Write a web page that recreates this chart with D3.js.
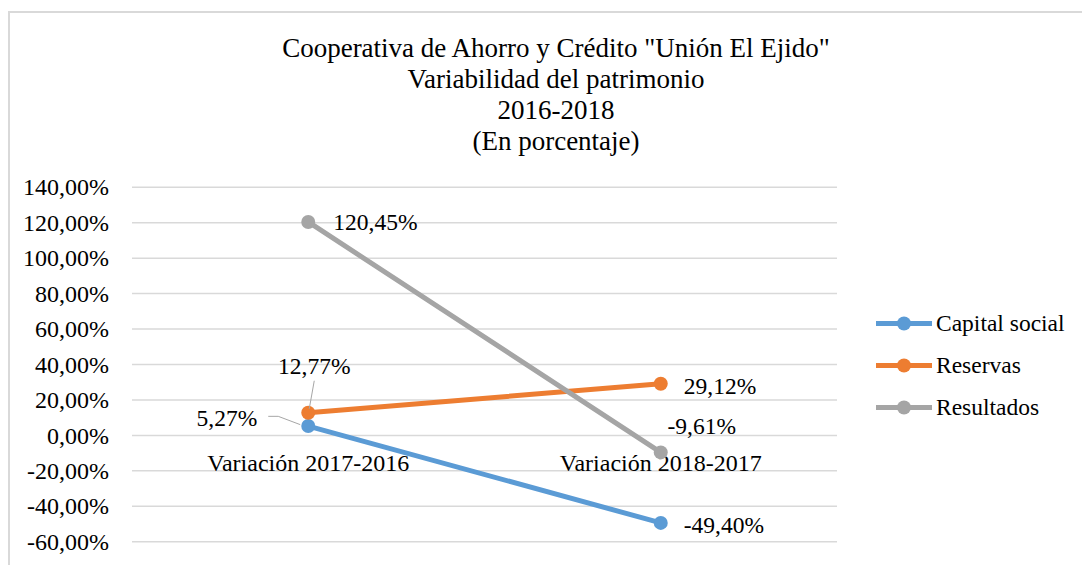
<!DOCTYPE html>
<html>
<head>
<meta charset="utf-8">
<script src="https://cdn.jsdelivr.net/npm/d3@7"></script>
</head>
<body style="margin:0;background:#fff">
<div id="painting"></div>
<script>
// chart data
var categories = ["Variación 2017-2016", "Variación 2018-2017"];
var seriesNames = ["Capital social", "Reservas", "Resultados"];
var capitalSocial = [5.27, -49.40];
var reservas = [12.77, 29.12];
var resultados = [120.45, -9.61];
var yTicks = [-60, -40, -20, 0, 20, 40, 60, 80, 100, 120, 140];
var titleLines = ["Cooperativa de Ahorro y Crédito \"Unión El Ejido\"", "Variabilidad del patrimonio", "2016-2018", "(En porcentaje)"];

var colours = ["#5B9BD5", "#ED7D31", "#A5A5A5"];
var FONT = "'Liberation Serif', 'Times New Roman', serif";

// where each data label sits relative to its point (layout only)
var labelPlace = [
  [ {dx: -51, dy: -8, anchor: "end", leader: [[-40, -9.7], [-30, -9.7], [-8, -1.4]]},
    {dx: 23, dy: 2, anchor: "start"} ],
  [ {dx: 6, dy: -47, anchor: "middle", leader: [[6, -32], [1, -4]]},
    {dx: 23, dy: 2, anchor: "start"} ],
  [ {dx: 25, dy: 0, anchor: "start"},
    {dx: 41, dy: -27, anchor: "middle"} ]
];

var W = 1082, H = 565;
var svg = d3.select("#painting").append("svg")
  .attr("width", W).attr("height", H);

// chart frame
svg.append("rect")
  .attr("x", 9).attr("y", 12)
  .attr("width", 1100).attr("height", 600)
  .attr("fill", "none").attr("stroke", "#d9d9d9").attr("stroke-width", 2);

var locale = d3.formatLocale({decimal: ",", thousands: ".", grouping: [3], currency: ["", ""], minus: "-"});
var pct = function(d) { return locale.format(".2f")(d) + "%"; };

var x = d3.scalePoint().domain(categories).range([132, 837]).padding(0.5);
var y = d3.scaleLinear().domain([-60, 140]).range([541.7, 187.3]);

// title
svg.append("g").selectAll("text")
  .data(titleLines)
  .enter().append("text")
  .attr("x", 556)
  .attr("y", function(d, i) { return 57 + i * 31; })
  .attr("text-anchor", "middle")
  .style("font-family", FONT)
  .style("font-size", "27px")
  .attr("fill", "#000")
  .text(function(d) { return d; });

// gridlines
svg.append("g").selectAll("line")
  .data(yTicks)
  .enter().append("line")
  .attr("x1", 132).attr("x2", 837)
  .attr("y1", function(d) { return y(d); })
  .attr("y2", function(d) { return y(d); })
  .attr("stroke", "#d9d9d9").attr("stroke-width", 1.5);

// y axis labels
var yAxis = d3.axisLeft(y).tickValues(yTicks).tickFormat(pct).tickSize(0).tickPadding(23);
var ya = svg.append("g").attr("transform", "translate(132,0)").call(yAxis);
ya.select(".domain").remove();
ya.selectAll("text")
  .style("font-family", FONT).style("font-size", "24px").attr("fill", "#000");

// category labels at the zero line
svg.append("g").selectAll("text")
  .data(categories)
  .enter().append("text")
  .attr("x", function(d) { return x(d); })
  .attr("y", y(0) + 36)
  .attr("text-anchor", "middle")
  .style("font-family", FONT)
  .style("font-size", "24px")
  .attr("fill", "#000")
  .text(function(d) { return d; });

var allSeries = [capitalSocial, reservas, resultados];

var line = d3.line()
  .x(function(d, i) { return x(categories[i]); })
  .y(function(d) { return y(d); });

allSeries.forEach(function(vals, s) {
  var g = svg.append("g");
  g.append("path")
    .datum(vals)
    .attr("d", line)
    .attr("fill", "none")
    .attr("stroke", colours[s])
    .attr("stroke-width", 5)
    .attr("stroke-linecap", "round");
  g.selectAll("circle")
    .data(vals)
    .enter().append("circle")
    .attr("cx", function(d, i) { return x(categories[i]); })
    .attr("cy", function(d) { return y(d); })
    .attr("r", 7)
    .attr("fill", colours[s]);
});

// data labels
allSeries.forEach(function(vals, s) {
  vals.forEach(function(v, i) {
    var px = x(categories[i]), py = y(v);
    var p = labelPlace[s][i];
    if (p.leader) {
      svg.append("path")
        .attr("d", d3.line()(p.leader.map(function(q) { return [px + q[0], py + q[1]]; })))
        .attr("fill", "none").attr("stroke", "#a6a6a6").attr("stroke-width", 1);
    }
    svg.append("text")
      .attr("x", px + p.dx)
      .attr("y", py + p.dy)
      .attr("dy", "0.35em")
      .attr("text-anchor", p.anchor)
      .style("font-family", FONT)
      .style("font-size", "23.5px")
      .attr("fill", "#000")
      .text(pct(v));
  });
});

// legend
var legend = svg.append("g").selectAll("g")
  .data(seriesNames)
  .enter().append("g")
  .attr("transform", function(d, i) { return "translate(876," + (323.5 + i * 42) + ")"; });
legend.append("line")
  .attr("x1", 0).attr("x2", 56)
  .attr("stroke", function(d, i) { return colours[i]; })
  .attr("stroke-width", 5);
legend.append("circle")
  .attr("cx", 28).attr("r", 7)
  .attr("fill", function(d, i) { return colours[i]; });
legend.append("text")
  .attr("x", 60).attr("dy", "0.3em")
  .style("font-family", FONT)
  .style("font-size", "23.5px")
  .attr("fill", "#000")
  .text(function(d) { return d; });
</script>
</body>
</html>
